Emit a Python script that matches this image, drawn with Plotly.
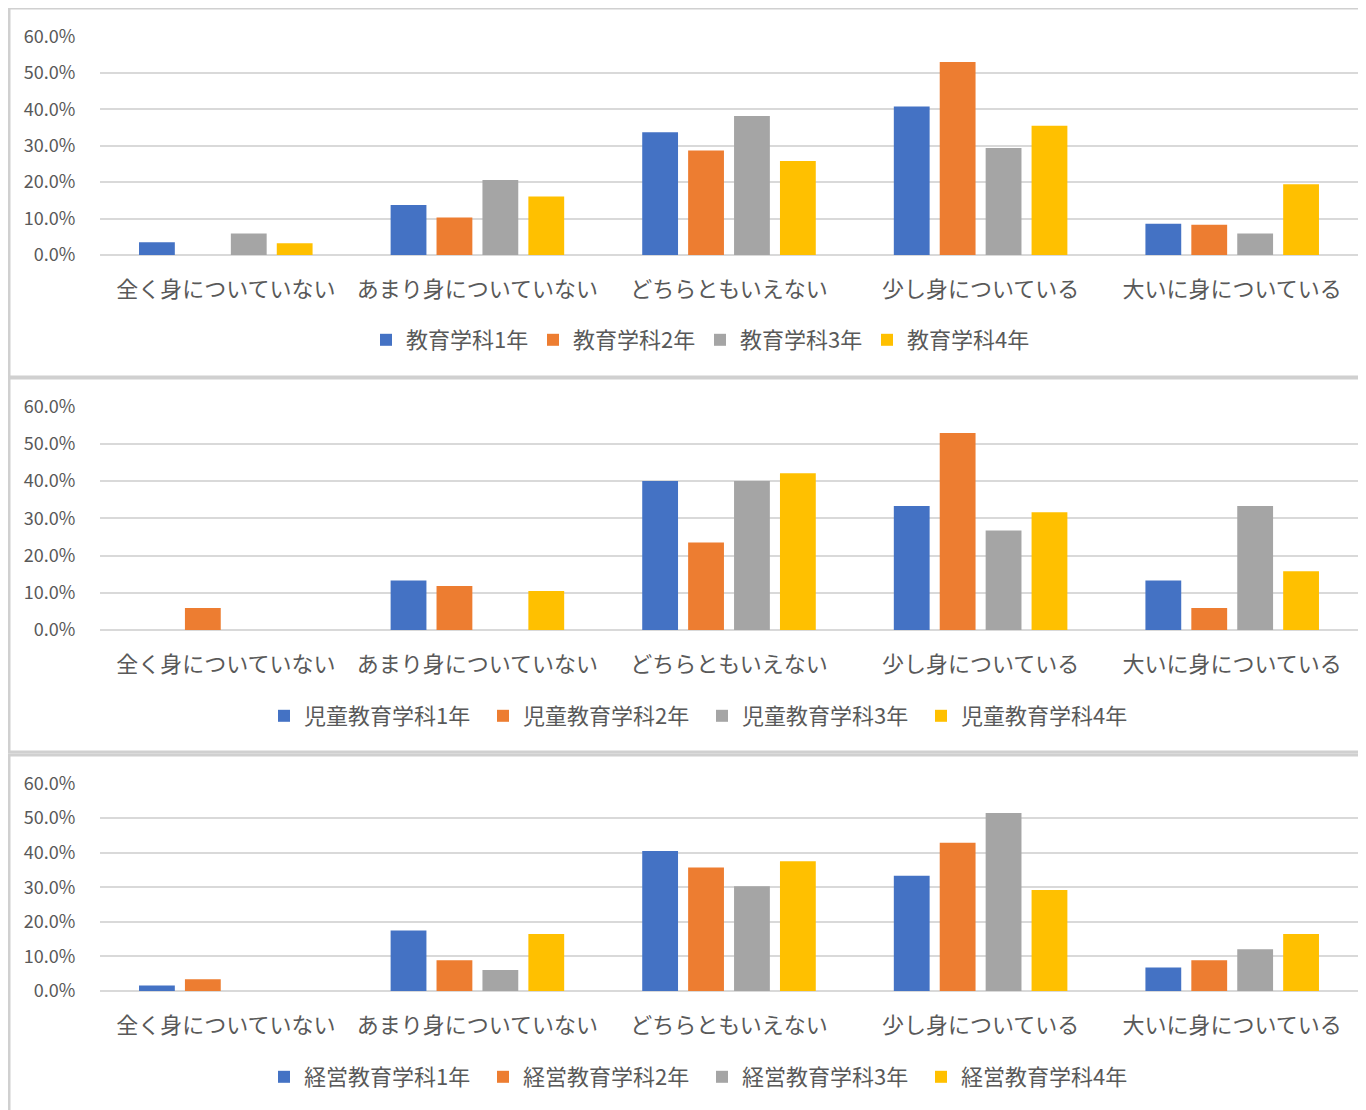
import plotly.graph_objects as go

categories = ["全く身についていない", "あまり身についていない", "どちらともいえない", "少し身についている", "大いに身についている"]
colors = ["#4472C4", "#ED7D31", "#A5A5A5", "#FFC000"]

names_edu = ["教育学科1年", "教育学科2年", "教育学科3年", "教育学科4年"]
edu_y1 = [0.035, 0.137, 0.337, 0.408, 0.086]
edu_y2 = [0.0, 0.103, 0.287, 0.530, 0.083]
edu_y3 = [0.059, 0.206, 0.382, 0.294, 0.059]
edu_y4 = [0.032, 0.161, 0.258, 0.355, 0.194]

names_child = ["児童教育学科1年", "児童教育学科2年", "児童教育学科3年", "児童教育学科4年"]
child_y1 = [0.0, 0.133, 0.400, 0.333, 0.133]
child_y2 = [0.059, 0.118, 0.235, 0.529, 0.059]
child_y3 = [0.0, 0.0, 0.400, 0.267, 0.333]
child_y4 = [0.0, 0.105, 0.421, 0.316, 0.158]

names_mgmt = ["経営教育学科1年", "経営教育学科2年", "経営教育学科3年", "経営教育学科4年"]
mgmt_y1 = [0.016, 0.175, 0.405, 0.333, 0.068]
mgmt_y2 = [0.034, 0.089, 0.357, 0.429, 0.089]
mgmt_y3 = [0.0, 0.061, 0.303, 0.515, 0.121]
mgmt_y4 = [0.0, 0.165, 0.375, 0.292, 0.165]

panels = [
    (names_edu, [edu_y1, edu_y2, edu_y3, edu_y4]),
    (names_child, [child_y1, child_y2, child_y3, child_y4]),
    (names_mgmt, [mgmt_y1, mgmt_y2, mgmt_y3, mgmt_y4]),
]

OFF = 8  # page body margin
W, H = 1366 - OFF, 1110 - OFF


def px_x(x):
    return (x - OFF) / W


def px_y(y):
    return 1 - (y - OFF) / H


# reference pixel geometry
plot_px = [(36, 255), (406, 630), (783, 991)]
legend_px = [340, 716, 1077]
legend_x = [700, 702, 702]
legend_entry = [122, 174, 174]
boxes = [(9, 8, 1380, 377), (9, 378, 1380, 752), (9, 755, 1380, 1125)]

fig = go.Figure()
TXT = "#595959"
FONT = "Noto Sans CJK JP"

for i, (names, series) in enumerate(panels):
    ax = "" if i == 0 else str(i + 1)
    lg = "legend" if i == 0 else f"legend{i+1}"
    for j in range(4):
        fig.add_trace(go.Bar(
            x=categories, y=series[j], name=names[j],
            marker=dict(color=colors[j], line=dict(width=0)),
            xaxis="x" + ax, yaxis="y" + ax, legend=lg,
            hovertemplate="%{x}: %{y:.1%}<extra>" + names[j] + "</extra>",
        ))
    top, bot = plot_px[i]
    fig.layout["xaxis" + ax] = dict(
        domain=[px_x(100), px_x(1358)], anchor="y" + ax, automargin=False,
        type="category", showgrid=False, showline=False, zeroline=False,
        ticks="outside", ticklen=15, tickcolor="rgba(0,0,0,0)",
        tickfont=dict(size=22, color=TXT, family=FONT),
    )
    fig.layout["yaxis" + ax] = dict(
        domain=[px_y(bot), px_y(top)], anchor="x" + ax, automargin=False,
        range=[0, 0.6015], dtick=0.1, tickformat=".1%",
        showgrid=True, gridcolor="#d9d9d9", gridwidth=2,
        zeroline=True, zerolinecolor="#d9d9d9", zerolinewidth=2,
        showline=False,
        ticks="outside", ticklen=20, tickcolor="rgba(0,0,0,0)",
        tickfont=dict(size=18, color=TXT, family=FONT),
    )
    fig.layout[lg] = dict(
        orientation="h", x=px_x(legend_x[i]), xanchor="center",
        y=px_y(legend_px[i]), yanchor="middle",
        entrywidth=legend_entry[i], entrywidthmode="pixels",
        font=dict(size=22, color=TXT, family=FONT),
        bgcolor="rgba(0,0,0,0)", itemclick=False, itemdoubleclick=False,
    )
    x0, y0, x1, y1 = boxes[i]
    fig.add_shape(type="rect", xref="paper", yref="paper",
                  x0=px_x(x0), x1=px_x(x1), y0=px_y(y1), y1=px_y(y0),
                  line=dict(color="#d0d0d0", width=3), layer="below")

fig.update_layout(
    width=W, height=H, margin=dict(l=0, r=0, t=0, b=0, autoexpand=False),
    paper_bgcolor="white", plot_bgcolor="white",
    barmode="group", bargap=0.27, bargroupgap=0.22,
    font=dict(family=FONT, color=TXT),
    showlegend=True,
)

fig.write_html("out.html")
